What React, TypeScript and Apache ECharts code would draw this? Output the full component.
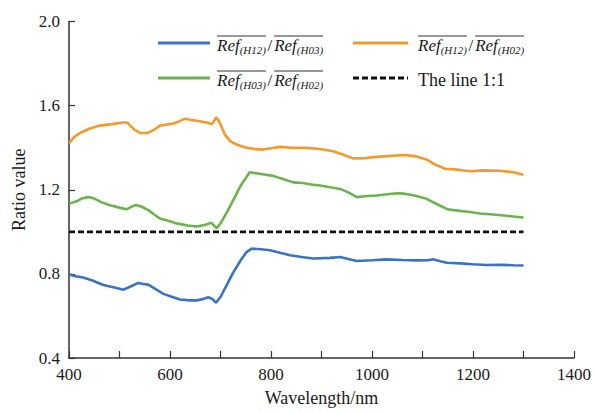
import React, { useEffect, useRef } from "react";
import * as echarts from "echarts";

// ---- data (wavelength nm, ratio) ----
const seriesNames = ["Ref(H12)/Ref(H03)", "Ref(H12)/Ref(H02)", "Ref(H03)/Ref(H02)", "The line 1:1"];

const blueData: [number, number][] = [
  [400, 0.798], [410, 0.79], [428, 0.783], [445, 0.77], [468, 0.747], [490, 0.735], [508, 0.725],
  [522, 0.74], [537, 0.757], [547, 0.752], [557, 0.749], [570, 0.73], [587, 0.705], [605, 0.69],
  [620, 0.678], [640, 0.674], [653, 0.674], [665, 0.68], [676, 0.689], [684, 0.68], [691, 0.663],
  [700, 0.69], [712, 0.745], [725, 0.806], [740, 0.865], [752, 0.905], [762, 0.92], [780, 0.917],
  [798, 0.912], [818, 0.9], [838, 0.889], [860, 0.88], [884, 0.873], [917, 0.876], [937, 0.88],
  [955, 0.87], [970, 0.861], [1000, 0.865], [1029, 0.869], [1060, 0.866], [1090, 0.864], [1110, 0.865],
  [1121, 0.87], [1135, 0.86], [1148, 0.853], [1175, 0.85], [1200, 0.846], [1227, 0.842], [1255, 0.843],
  [1280, 0.841], [1300, 0.84],
];

const orangeData: [number, number][] = [
  [400, 1.42], [410, 1.45], [422, 1.47], [440, 1.49], [461, 1.505], [485, 1.512], [507, 1.52],
  [515, 1.52], [521, 1.505], [530, 1.485], [541, 1.47], [556, 1.47], [568, 1.485], [580, 1.505],
  [606, 1.515], [618, 1.525], [630, 1.538], [642, 1.532], [653, 1.528], [673, 1.52], [683, 1.512],
  [688, 1.53], [691, 1.544], [695, 1.535], [699, 1.516], [709, 1.461], [718, 1.435], [725, 1.422],
  [740, 1.408], [752, 1.4], [770, 1.393], [785, 1.391], [800, 1.397], [818, 1.404], [840, 1.4],
  [871, 1.399], [897, 1.394], [923, 1.383], [945, 1.365], [963, 1.349], [985, 1.35], [1003, 1.355],
  [1030, 1.36], [1062, 1.365], [1085, 1.36], [1108, 1.344], [1125, 1.32], [1145, 1.3], [1165, 1.297],
  [1194, 1.288], [1220, 1.292], [1253, 1.29], [1280, 1.283], [1300, 1.271],
];

const greenData: [number, number][] = [
  [400, 1.134], [415, 1.145], [425, 1.158], [438, 1.165], [450, 1.158], [465, 1.14], [481, 1.126],
  [500, 1.115], [514, 1.107], [524, 1.12], [533, 1.127], [545, 1.118], [557, 1.103], [570, 1.08],
  [580, 1.063], [600, 1.05], [613, 1.04], [635, 1.03], [653, 1.025], [670, 1.033], [682, 1.043],
  [692, 1.017], [700, 1.04], [712, 1.09], [725, 1.149], [740, 1.22], [758, 1.283], [780, 1.275],
  [804, 1.266], [825, 1.25], [844, 1.235], [863, 1.232], [880, 1.225], [897, 1.22], [917, 1.212],
  [937, 1.204], [955, 1.185], [970, 1.165], [990, 1.17], [1009, 1.173], [1035, 1.18], [1055, 1.184],
  [1080, 1.175], [1108, 1.157], [1130, 1.13], [1150, 1.107], [1161, 1.103], [1190, 1.095], [1214, 1.087],
  [1240, 1.082], [1266, 1.076], [1300, 1.068],
];

const oneToOne: [number, number][] = [[400, 1.0], [1300, 1.0]];

const colors = ["#3b73c4", "#f29a2c", "#6cb34f", "#111111"];

const xMin = 400, xMax = 1400, xInterval = 100;
const yMin = 0.4, yMax = 2.0, yInterval = 0.4;

const FONT = '"Liberation Serif", "Times New Roman", serif';

function measure(txt: string, font: string): number {
  const c = document.createElement("canvas").getContext("2d");
  if (!c) return txt.length * 8;
  c.font = font;
  return c.measureText(txt).width;
}

function txt(text: string, x: number, y: number, font: string) {
  return {
    type: "text",
    x,
    y,
    silent: true,
    style: {
      text,
      font,
      fill: "#1a1a1a",
      align: "left",
      verticalAlign: "middle",
      textAlign: "left",
      textVerticalAlign: "middle",
    },
  };
}

// label like  overline(Ref_(H12)) / overline(Ref_(H03))
function ratioLabel(x0: number, base: number, subs: string[], k: number) {
  const els: any[] = [];
  const refFont = `italic 17px ${FONT}`;
  const subFont = `italic 11px ${FONT}`;
  const slashFont = `17px ${FONT}`;
  let x = x0;
  subs.forEach((s, i) => {
    if (i > 0) {
      x += 1.5;
      els.push(txt("/", x, (base - 0.34 * 17) * k, slashFont));
      x += measure("/", slashFont) + 2;
    }
    const start = x;
    els.push(txt("Ref", x, (base - 0.34 * 17) * k, refFont));
    x += measure("Ref", refFont);
    els.push(txt(s, x, (base + 3 - 0.34 * 11) * k, subFont));
    x += measure(s, subFont);
    els.push({
      type: "line",
      silent: true,
      shape: { x1: start, y1: (base - 15) * k, x2: x, y2: (base - 15) * k },
      style: { stroke: "#333", lineWidth: 1 },
    });
  });
  return els;
}

export default function App() {
  const ref = useRef<HTMLDivElement>(null);
  const H = typeof window !== "undefined" && window.innerHeight ? window.innerHeight : 412;

  useEffect(() => {
    if (!ref.current) return;
    const chart = echarts.init(ref.current, null, { renderer: "svg" });
    const k = H / 412;

    const row1Line = 43, row2Line = 78;
    const row1Base = 51, row2Base = 86;

    const legendEls: any[] = [
      { type: "line", silent: true, shape: { x1: 158, y1: row1Line * k, x2: 210, y2: row1Line * k }, style: { stroke: colors[0], lineWidth: 3.2 } },
      ...ratioLabel(217, row1Base, ["(H12)", "(H03)"], k),
      { type: "line", silent: true, shape: { x1: 353, y1: row1Line * k, x2: 408, y2: row1Line * k }, style: { stroke: colors[1], lineWidth: 3.2 } },
      ...ratioLabel(418, row1Base, ["(H12)", "(H02)"], k),
      { type: "line", silent: true, shape: { x1: 158, y1: row2Line * k, x2: 210, y2: row2Line * k }, style: { stroke: colors[2], lineWidth: 3.2 } },
      ...ratioLabel(217, row2Base, ["(H03)", "(H02)"], k),
      { type: "line", silent: true, shape: { x1: 353, y1: row2Line * k, x2: 408, y2: row2Line * k }, style: { stroke: colors[3], lineWidth: 3, lineDash: [6, 3] } },
      txt("The line 1:1", 418, (row2Base - 0.34 * 18) * k, `18px ${FONT}`),
    ];

    chart.setOption({
      animation: false,
      backgroundColor: "#ffffff",
      grid: { left: 69, right: 21, top: 21.5 * k, bottom: 48.7 * k, containLabel: false },
      xAxis: {
        type: "value",
        min: xMin,
        max: xMax,
        interval: xInterval,
        name: "Wavelength/nm",
        nameLocation: "middle",
        nameGap: 31 * k,
        nameTextStyle: { fontFamily: FONT, fontSize: 18, color: "#1a1a1a" },
        axisLine: { show: true, onZero: false, lineStyle: { color: "#333", width: 1.5 } },
        axisTick: { show: true, inside: true, length: 7, lineStyle: { color: "#333", width: 1.2 } },
        axisLabel: {
          margin: 8 * k,
          fontFamily: FONT,
          fontSize: 17,
          color: "#1a1a1a",
          formatter: (v: number) => (v % 200 === 0 ? String(v) : ""),
        },
        splitLine: { show: false },
      },
      yAxis: {
        type: "value",
        min: yMin,
        max: yMax,
        interval: yInterval,
        name: "Ratio value",
        nameLocation: "middle",
        nameGap: 40,
        nameTextStyle: { fontFamily: FONT, fontSize: 18, color: "#1a1a1a" },
        axisLine: { show: true, onZero: false, lineStyle: { color: "#333", width: 1.5 } },
        axisTick: { show: true, inside: true, length: 6, lineStyle: { color: "#333", width: 1.2 } },
        axisLabel: {
          margin: 9,
          fontFamily: FONT,
          fontSize: 17,
          color: "#1a1a1a",
          formatter: (v: number) => v.toFixed(1),
        },
        splitLine: { show: false },
      },
      series: [
        { name: seriesNames[0], type: "line", data: blueData, showSymbol: false, symbol: "none", lineStyle: { color: colors[0], width: 2.6 }, itemStyle: { color: colors[0] } },
        { name: seriesNames[1], type: "line", data: orangeData, showSymbol: false, symbol: "none", lineStyle: { color: colors[1], width: 2.6 }, itemStyle: { color: colors[1] } },
        { name: seriesNames[2], type: "line", data: greenData, showSymbol: false, symbol: "none", lineStyle: { color: colors[2], width: 2.6 }, itemStyle: { color: colors[2] } },
        { name: seriesNames[3], type: "line", data: oneToOne, showSymbol: false, symbol: "none", lineStyle: { color: colors[3], width: 2.8, type: [6, 3] }, itemStyle: { color: colors[3] } },
      ],
      graphic: legendEls,
    });

    return () => chart.dispose();
  }, []);

  return (
    <div
      ref={ref}
      style={{ position: "fixed", left: 0, top: 0, width: 595, height: H, background: "#fff" }}
    />
  );
}
